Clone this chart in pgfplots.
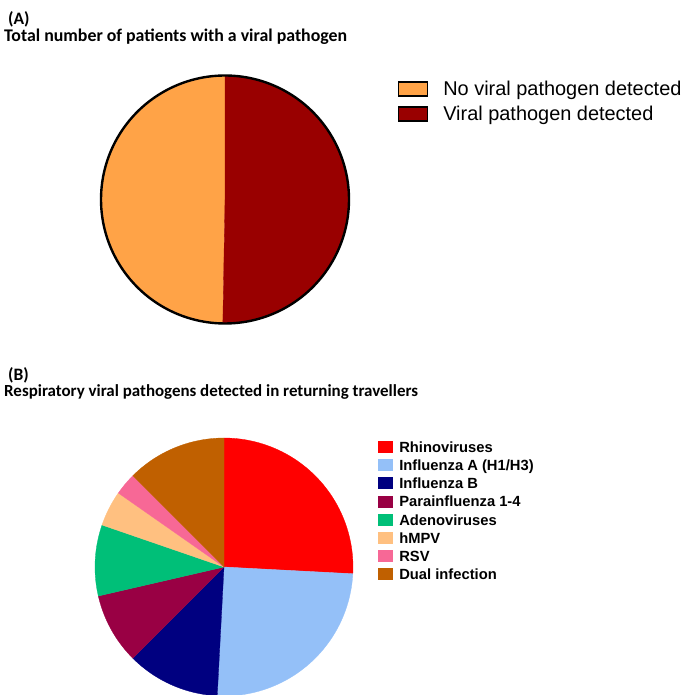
\documentclass[border=0pt]{standalone}
\usepackage{fontspec}
\setmainfont{Liberation Sans}
\newfontfamily\carlito{Carlito}
\usepackage{pgfplots}
\pgfplotsset{compat=1.18}
\definecolor{cNo}{RGB}{255,163,71}
\definecolor{cVir}{RGB}{153,0,0}
\definecolor{cRhino}{RGB}{255,0,0}
\definecolor{cInfA}{RGB}{148,192,248}
\definecolor{cInfB}{RGB}{0,0,128}
\definecolor{cPara}{RGB}{153,0,68}
\definecolor{cAdeno}{RGB}{0,191,120}
\definecolor{cHMPV}{RGB}{255,192,128}
\definecolor{cRSV}{RGB}{247,104,150}
\definecolor{cDual}{RGB}{192,96,0}
\newcommand{\sA}{\rule[-4bp]{0pt}{19bp}}
\newcommand{\sB}{\rule[-2.6bp]{0pt}{15.6bp}}
\begin{document}
\begin{tikzpicture}
\useasboundingbox (0,0) rectangle (683bp,695bp);
\clip (0,0) rectangle (683bp,695bp);
\node[anchor=base west, inner sep=0] at (8bp,670bp) {\carlito\bfseries\fontsize{17.5}{20}\selectfont (A)};
\node[anchor=base west, inner sep=0] at (4bp,653bp) {\carlito\bfseries\fontsize{17.9}{20}\selectfont Total number of patients with a viral pathogen};
\node[anchor=base west, inner sep=0] at (8bp,314bp) {\carlito\bfseries\fontsize{17.5}{20}\selectfont (B)};
\node[anchor=base west, inner sep=0] at (4bp,298bp) {\carlito\bfseries\fontsize{17}{20}\selectfont Respiratory viral pathogens detected in returning travellers};

% (A) slices in degrees: No viral pathogen 179, viral pathogen 181 (start at 12 o'clock, clockwise)
\begin{axis}[at={(225bp,495.5bp)}, anchor=center, hide axis, scale only axis,
  width=248bp, height=248bp, xmin=-1, xmax=1, ymin=-1, ymax=1, clip=false,
  legend cell align=left,
  legend style={at={(1.1976,0.979)}, anchor=north west, draw=none, fill=none,
    inner sep=0pt, outer sep=0pt, font=\fontsize{20}{24}\selectfont,
    row sep=8.5bp, column sep=15bp, nodes={inner sep=0pt}},
  legend image code/.code={\draw[#1, draw=black, line width=1.3bp] (0bp,-7bp) rectangle (29bp,7bp);}]
\addplot[fill=cNo, draw=cNo, line width=0.3bp, domain=90:269, samples=90] ({cos(x)},{sin(x)}) -- (axis cs:0,0) -- cycle;
\addplot[fill=cVir, draw=cVir, line width=0.3bp, domain=-91:90, samples=90] ({cos(x)},{sin(x)}) -- (axis cs:0,0) -- cycle;
\addplot[forget plot, black, line width=2.4bp, domain=0:360, samples=181] ({cos(x)},{sin(x)});
\legend{\sA No viral pathogen detected, \sA Viral pathogen detected}
\end{axis}

% (B) slices in degrees, clockwise from 12 o'clock:
% Rhino 93, InfA 90, InfB 42, Para 32, Adeno 32, hMPV 16, RSV 10, Dual 45
\begin{axis}[at={(224bp,128bp)}, anchor=center, hide axis, scale only axis,
  width=258bp, height=258bp, xmin=-1, xmax=1, ymin=-1, ymax=1, clip=false,
  legend cell align=left,
  legend style={at={(1.097,0.9934)}, anchor=north west, draw=none, fill=none,
    inner sep=0pt, outer sep=0pt, font=\bfseries\fontsize{14.8}{17}\selectfont,
    row sep=3.6bp, column sep=7bp, nodes={inner sep=0pt}},
  legend image code/.code={\fill[#1] (0bp,-5.5bp) rectangle (14bp,5.5bp);}]
\addplot[fill=cRhino, draw=cRhino, line width=0.3bp, domain=-3:90, samples=60] ({cos(x)},{sin(x)}) -- (axis cs:0,0) -- cycle;
\addplot[fill=cInfA, draw=cInfA, line width=0.3bp, domain=-93:-3, samples=60] ({cos(x)},{sin(x)}) -- (axis cs:0,0) -- cycle;
\addplot[fill=cInfB, draw=cInfB, line width=0.3bp, domain=-135:-93, samples=40] ({cos(x)},{sin(x)}) -- (axis cs:0,0) -- cycle;
\addplot[fill=cPara, draw=cPara, line width=0.3bp, domain=-167:-135, samples=30] ({cos(x)},{sin(x)}) -- (axis cs:0,0) -- cycle;
\addplot[fill=cAdeno, draw=cAdeno, line width=0.3bp, domain=-199:-167, samples=30] ({cos(x)},{sin(x)}) -- (axis cs:0,0) -- cycle;
\addplot[fill=cHMPV, draw=cHMPV, line width=0.3bp, domain=-215:-199, samples=20] ({cos(x)},{sin(x)}) -- (axis cs:0,0) -- cycle;
\addplot[fill=cRSV, draw=cRSV, line width=0.3bp, domain=-225:-215, samples=15] ({cos(x)},{sin(x)}) -- (axis cs:0,0) -- cycle;
\addplot[fill=cDual, draw=cDual, line width=0.3bp, domain=-270:-225, samples=40] ({cos(x)},{sin(x)}) -- (axis cs:0,0) -- cycle;
\legend{\sB Rhinoviruses, \sB Influenza A (H1/H3), \sB Influenza B, \sB Parainfluenza 1-4, \sB Adenoviruses, \sB hMPV, \sB RSV, \sB Dual infection}
\end{axis}
\end{tikzpicture}
\end{document}
